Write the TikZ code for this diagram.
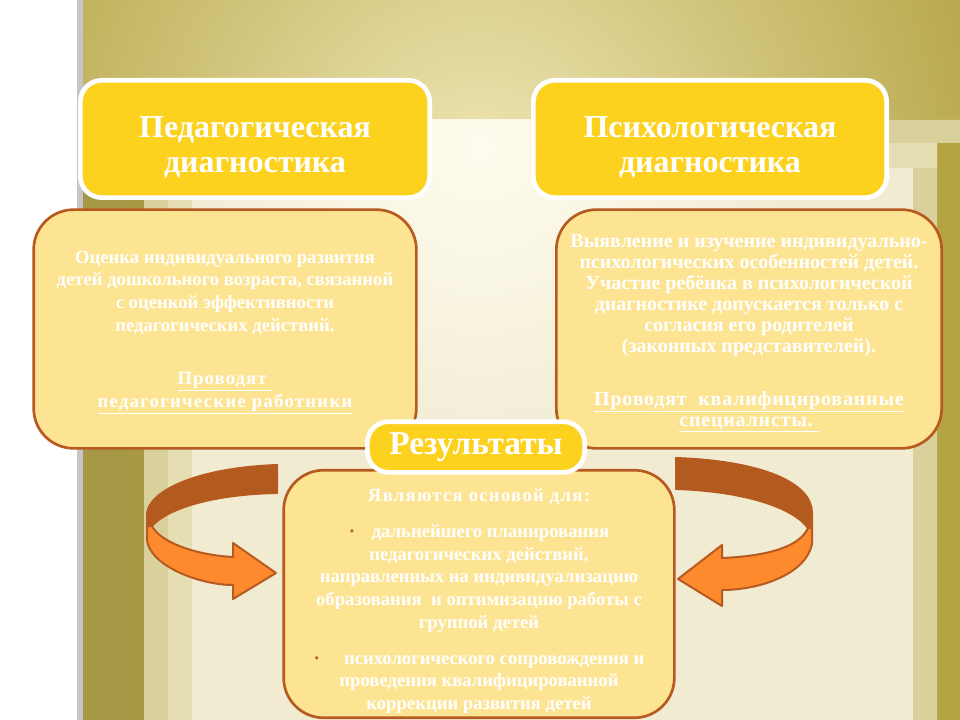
\documentclass[tikz,border=0pt]{standalone}
\usepackage{fontspec}
\setmainfont{Liberation Serif}
\definecolor{titleyellow}{HTML}{FCD21F}
\definecolor{boxyellow}{HTML}{FDE493}
\definecolor{rimbrown}{HTML}{B65A20}
\definecolor{arrowdark}{HTML}{B35A1F}
\definecolor{arroworange}{HTML}{FF8A2E}
\definecolor{olive}{HTML}{B3A343}
\definecolor{olivelight}{HTML}{EEE6B4}
\definecolor{framea}{HTML}{D9D09C}
\definecolor{frameb}{HTML}{E5DEB3}
\definecolor{cream}{HTML}{F1EBD2}
\definecolor{glow}{HTML}{FEFCEE}
\newcommand{\titlestrut}{\rule{0pt}{28pt}}

\begin{document}
\begin{tikzpicture}[x=0.75pt,y=-0.75pt,
    title/.style={rectangle,rounded corners=16pt,draw=white,line width=3.5pt,
        fill=titleyellow,text=white,align=center,
        font=\fontsize{24}{26}\selectfont\bfseries},
    info/.style={rectangle,rounded corners=30pt,draw=rimbrown,line width=2pt,
        fill=boxyellow,text=white,align=center,
        font=\fontsize{14}{17}\selectfont\bfseries},
    ribbon/.style={draw=rimbrown,line width=1.5pt,line join=round}]
\useasboundingbox (0,0) rectangle (960,720);
% background
\fill[white] (0,0) rectangle (960,720);
\fill[gray!45] (77,0) rectangle (83,720);
\shade[left color=olive!90!black!95, right color=olive] (83,0) rectangle (960,720);
\begin{scope}
    \clip (83,0) rectangle (960,120);
    \shade[inner color=olivelight, outer color=olive] (480,170) circle [radius=560];
\end{scope}
\fill[framea] (144,720) -- (144,120) -- (960,120) -- (960,143) -- (937,143) -- (937,720) -- cycle;
\fill[frameb] (168,720) -- (168,143) -- (937,143) -- (937,168) -- (913,168) -- (913,720) -- cycle;
\fill[cream] (192,168) rectangle (913,720);
\begin{scope}
    \clip (192,120) rectangle (913,720);
    \shade[inner color=glow, outer color=cream] (480,150) circle [radius=330];
\end{scope}

% boxes
\node[title,minimum width=262pt,minimum height=88pt] (ped) at (255,139)
    {\titlestrut Педагогическая\\диагностика};
\node[title,minimum width=265pt,minimum height=88pt] (psy) at (710,139)
    {\titlestrut Психологическая\\диагностика};
\node[info,minimum width=287pt,minimum height=179pt] (pedinfo) at (225,329)
    {\rule{0pt}{14pt}Оценка индивидуального развития\\
     детей дошкольного возраста, связанной\\
     с оценкой эффективности\\
     педагогических действий.\\[23pt]
     {\addfontfeatures{LetterSpace=6}\underline{Проводят\ }}\\
     {\addfontfeatures{LetterSpace=7}\underline{педагогические работники}}};
\node[info,minimum width=289pt,minimum height=179pt,
    font=\fontsize{15}{15.75}\selectfont\bfseries] (psyinfo) at (749,329)
    {\rule{0pt}{16pt}Выявление и изучение индивидуально-\\
     психологических особенностей детей.\\
     Участие ребёнка в психологической\\
     диагностике допускается только с\\
     согласия его родителей\\
     (законных представителей).\\[24pt]
     {\addfontfeatures{LetterSpace=4}\underline{Проводят\ \ квалифицированные}}\\
     {\addfontfeatures{LetterSpace=4}\underline{специалисты.\ }}};
\node[info,minimum width=293pt,minimum height=183pt] (basis) at (479,594)
    {\rule{0pt}{20pt}{\addfontfeatures{LetterSpace=7}Являются основой для:}\\[10pt]
     {\color{rimbrown}·}\hspace{0.9em}дальнейшего планирования\\
     педагогических действий,\\
     направленных на индивидуализацию\\
     образования\ \ и оптимизацию работы с\\
     группой детей\\[10pt]
     {\color{rimbrown}·}\hspace{1.3em}психологического сопровождения и\\
     проведения квалифицированной\\
     коррекции развития детей};
\node[title,minimum width=163pt,minimum height=38pt,
    font=\fontsize{25}{28}\selectfont\bfseries] (res) at (476,447) {Результаты};

% curved arrows
\filldraw[ribbon,fill=arrowdark] (277,465) .. controls (195,468) and (147,492) .. (147,515)
    -- (147,526) -- (152,526) .. controls (170,506) and (220,494) .. (277,493) -- cycle;
\filldraw[ribbon,fill=arroworange] (147,526) -- (147,540) .. controls (150,566) and (200,585) .. (233,585)
    -- (233,599) -- (276,573) -- (233,543) -- (233,557) .. controls (195,555) and (160,542) .. (152,526) -- cycle;
\filldraw[ribbon,fill=arrowdark] (676,458) .. controls (760,461) and (812,482) .. (812,513)
    -- (812,528) -- (808,528) .. controls (792,506) and (740,491) .. (676,489) -- cycle;
\filldraw[ribbon,fill=arroworange] (812,528) -- (812,544) .. controls (806,574) and (760,590) .. (722,590)
    -- (722,606) -- (678,579) -- (722,545) -- (722,558) .. controls (770,556) and (800,546) .. (808,528) -- cycle;
\end{tikzpicture}
\end{document}
